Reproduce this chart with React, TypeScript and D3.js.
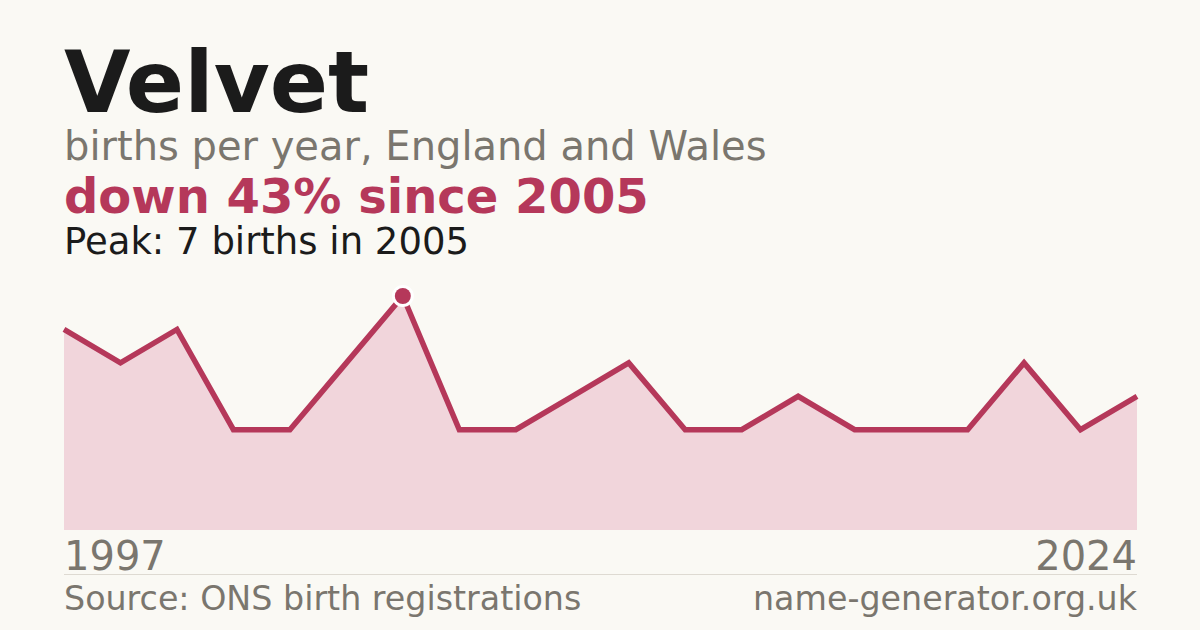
import { useMemo } from 'react'
import * as d3 from 'd3'

// Years with a published count (years under 3 births are suppressed by ONS)
const years = [1997, 1998, 1999, 2000, 2001, 2003, 2005, 2006, 2008, 2009, 2011, 2012, 2013, 2015, 2016, 2018, 2019, 2021, 2022, 2024]
const births = [6, 5, 6, 3, 3, 5, 7, 3, 3, 4, 5, 3, 3, 4, 3, 3, 3, 5, 3, 4]

const title = 'Velvet'
const subtitle = 'births per year, England and Wales'
const source = 'Source: ONS birth registrations'
const site = 'name-generator.org.uk'

const WIDTH = 1200
const HEIGHT = 630
const FONT = '"DejaVu Sans", sans-serif'
const CRIMSON = '#b5385a'
const GREY = '#7a766e'
const INK = '#1b1b1b'

type Point = { year: number; value: number; i: number }

const App = () => {
  const left = 64
  const right = 1137
  const plotTop = 296
  const plotBottom = 530

  const points: Point[] = years.map((year, i) => ({ year, value: births[i], i }))

  const x = d3.scaleLinear().domain([0, points.length - 1]).range([left, right])
  const y = d3
    .scaleLinear()
    .domain([0, d3.max(births)!])
    .range([plotBottom, plotTop])

  const peak = points.reduce((a, b) => (b.value > a.value ? b : a))
  const last = points[points.length - 1]
  const change = Math.round(((last.value - peak.value) / peak.value) * 100)

  const { areaPath, linePath } = useMemo(() => {
    const area = d3
      .area<Point>()
      .x((d) => x(d.i))
      .y0(y(0))
      .y1((d) => y(d.value))
    const line = d3
      .line<Point>()
      .x((d) => x(d.i))
      .y((d) => y(d.value))
    return { areaPath: area(points) ?? '', linePath: line(points) ?? '' }
  }, [])

  return (
    <svg
      width={WIDTH}
      height={HEIGHT}
      viewBox={`0 0 ${WIDTH} ${HEIGHT}`}
      style={{ position: 'absolute', left: 0, top: 0, display: 'block' }}
      fontFamily={FONT}
    >
      <rect width={WIDTH} height={HEIGHT} fill="#faf9f4" />

      <text x={left} y={112} fontSize={86} fontWeight="bold" fill={INK}>
        {title}
      </text>
      <text x={left} y={160} fontSize={40} fill={GREY}>
        {subtitle}
      </text>
      <text x={left} y={213} fontSize={48} fontWeight="bold" fill={CRIMSON}>
        {`down ${Math.abs(change)}% since ${peak.year}`}
      </text>
      <text x={left} y={254} fontSize={37} fill={INK}>
        {`Peak: ${peak.value} births in ${peak.year}`}
      </text>

      <path d={areaPath} fill="#f1d5db" />
      <path d={linePath} fill="none" stroke={CRIMSON} strokeWidth={5.5} strokeLinejoin="miter" />
      <circle
        cx={x(peak.i)}
        cy={y(peak.value)}
        r={8}
        fill={CRIMSON}
        stroke="#ffffff"
        strokeWidth={6}
        style={{ paintOrder: 'stroke' }}
      />

      <text x={left} y={570} fontSize={40} fill={GREY}>
        {years[0]}
      </text>
      <text x={right} y={570} fontSize={40} fill={GREY} textAnchor="end">
        {years[years.length - 1]}
      </text>

      <line x1={left} x2={right} y1={574.5} y2={574.5} stroke="#dedad2" strokeWidth={1} />

      <text x={left} y={610} fontSize={33.3} fill={GREY}>
        {source}
      </text>
      <text x={right} y={610} fontSize={33.3} fill={GREY} textAnchor="end">
        {site}
      </text>
    </svg>
  )
}

export default App
